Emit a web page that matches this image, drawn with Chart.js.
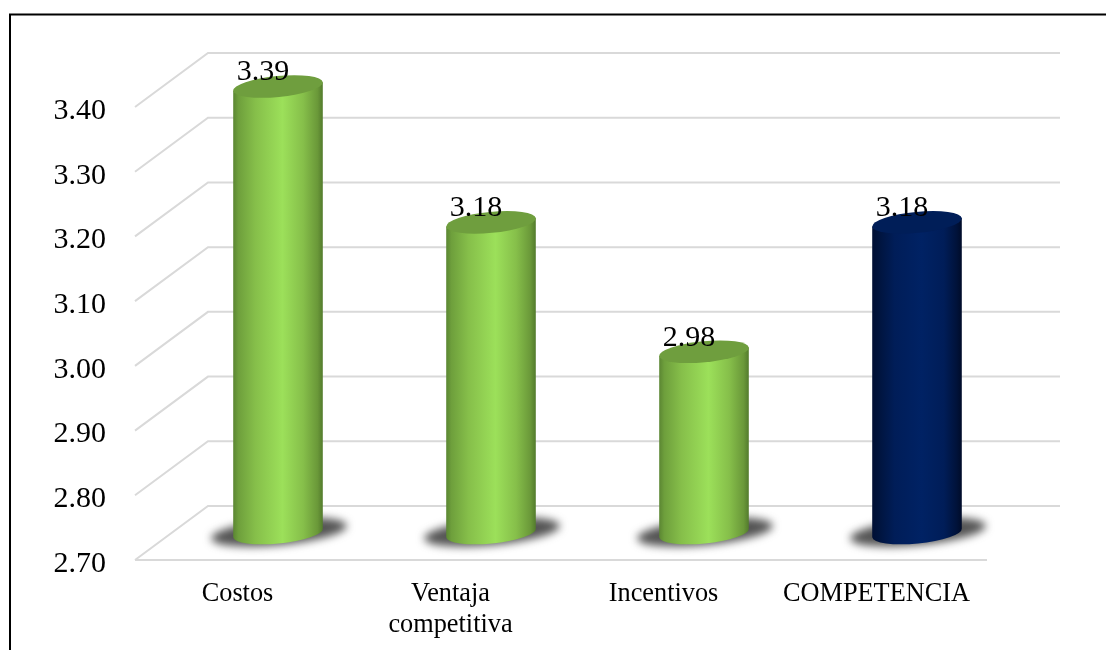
<!DOCTYPE html>
<html>
<head>
<meta charset="utf-8">
<title>Competencia</title>
<script src="https://cdn.jsdelivr.net/npm/chart.js@4/dist/chart.umd.min.js"></script>
<style>
    html, body { margin: 0; padding: 0; background: #fff; overflow: hidden; }
    canvas { display: block; }
</style>
</head>
<body>
<canvas id="competenciaChart" width="1106" height="650"></canvas>
<script>
const categories = ['Costos', ['Ventaja', 'competitiva'], 'Incentivos', 'COMPETENCIA'];
const scores = [3.39, 3.18, 2.98, 3.18];
const scoreLabels = ['3.39', '3.18', '2.98', '3.18'];
const tickValues = [2.7, 2.8, 2.9, 3.0, 3.1, 3.2, 3.3, 3.4];
const tickLabels = ['2.70', '2.80', '2.90', '3.00', '3.10', '3.20', '3.30', '3.40'];

const SERIF = '"Liberation Serif", "Times New Roman", serif';
const GRID_COLOR = '#d9d9d9';
// how far the back wall sits from the front of the floor
const DEPTH_X = 73;
const DEPTH_Y = 54;
const TILT = -5.5 * Math.PI / 180;

const green = {
    top: '#6f9e3e',
    side: [[0, '#5a8532'], [0.06, '#6e9f3c'], [0.25, '#86bf4a'], [0.55, '#9ce05a'], [0.78, '#86bf4a'], [0.94, '#6a9839'], [1, '#527a2c']]
};
const navy = {
    top: '#001e58',
    side: [[0, '#000f33'], [0.08, '#00143e'], [0.25, '#001d58'], [0.55, '#002264'], [0.8, '#001d58'], [0.94, '#00123a'], [1, '#000b28']]
};
const barStyles = [green, green, green, navy];

// grey floor and back wall, plus the outer frame
function drawWalls(chart) {
    const ctx = chart.ctx;
    const yScale = chart.scales.y;
    const { left, right, bottom } = chart.chartArea;

    ctx.save();
    ctx.strokeStyle = '#000';
    ctx.lineWidth = 2;
    ctx.beginPath();
    ctx.moveTo(10, 650);
    ctx.lineTo(10, 14.5);
    ctx.lineTo(1106, 14.5);
    ctx.stroke();

    ctx.strokeStyle = GRID_COLOR;
    ctx.lineWidth = 2;
    ctx.beginPath();
    yScale.ticks.forEach(tick => {
        const y = yScale.getPixelForValue(tick.value);
        ctx.moveTo(left, y);
        ctx.lineTo(left + DEPTH_X, y - DEPTH_Y);
        ctx.lineTo(right + DEPTH_X, y - DEPTH_Y);
    });
    ctx.moveTo(left, bottom);
    ctx.lineTo(right, bottom);
    ctx.stroke();
    ctx.restore();
}

function drawCylinder(ctx, bar, floorY, style) {
    const cx = bar.x + DEPTH_X / 2;
    const topY = bar.y - DEPTH_Y / 2;
    const baseY = floorY - DEPTH_Y / 2;
    const rx = bar.width / 2;
    const ry = 10.5;

    // soft shadow on the floor
    ctx.save();
    ctx.filter = 'blur(4px)';
    ctx.fillStyle = 'rgba(65, 65, 65, 0.9)';
    ctx.beginPath();
    ctx.ellipse(cx + 1, baseY - 1, 68, 13, TILT, 0, Math.PI * 2);
    ctx.fill();
    ctx.restore();

    const sideFill = ctx.createLinearGradient(cx - rx, 0, cx + rx, 0);
    style.side.forEach(stop => sideFill.addColorStop(stop[0], stop[1]));

    const dx = rx * Math.cos(TILT);
    const dy = rx * Math.sin(TILT);
    ctx.fillStyle = sideFill;
    ctx.beginPath();
    ctx.moveTo(cx - dx, topY - dy);
    ctx.lineTo(cx - dx, baseY - dy);
    ctx.ellipse(cx, baseY, rx, ry, TILT, Math.PI, 0, true);
    ctx.lineTo(cx + dx, topY + dy);
    ctx.closePath();
    ctx.fill();

    ctx.fillStyle = style.top;
    ctx.beginPath();
    ctx.ellipse(cx, topY, rx, ry, TILT, 0, Math.PI * 2);
    ctx.fill();
}

const cylinderPlugin = {
    id: 'cylinders',
    beforeDraw: drawWalls,
    beforeDatasetDraw(chart, args) {
        const floorY = chart.scales.y.getPixelForValue(tickValues[0]);
        args.meta.data.forEach((bar, i) => drawCylinder(chart.ctx, bar, floorY, barStyles[i]));
        return false; // skip the flat bars
    },
    afterDatasetsDraw(chart) {
        const ctx = chart.ctx;
        ctx.save();
        ctx.font = '30px ' + SERIF;
        ctx.fillStyle = '#000';
        ctx.textAlign = 'center';
        ctx.textBaseline = 'alphabetic';
        chart.getDatasetMeta(0).data.forEach((bar, i) => {
            ctx.fillText(scoreLabels[i], bar.x + DEPTH_X / 2 - 15, bar.y - DEPTH_Y / 2 - 6);
        });
        ctx.restore();
    }
};

new Chart(document.getElementById('competenciaChart'), {
    type: 'bar',
    data: {
        labels: categories,
        datasets: [{
            label: 'Competencia',
            data: scores,
            barThickness: 90,
            backgroundColor: '#9ce05a'
        }]
    },
    options: {
        responsive: false,
        animation: false,
        layout: { padding: { top: 107, right: 119, left: 0, bottom: 0 } },
        plugins: { legend: { display: false }, tooltip: { enabled: false } },
        scales: {
            x: {
                grid: { display: false },
                border: { display: false },
                afterFit: scale => { scale.height = 90; },
                ticks: {
                    color: '#000',
                    font: { family: SERIF, size: 26.3 },
                    padding: 10,
                    maxRotation: 0,
                    autoSkip: false,
                    labelOffset: -4
                }
            },
            y: {
                min: 2.7,
                max: 3.4,
                grid: { display: false },
                border: { display: false },
                afterFit: scale => { scale.width = 135; },
                afterBuildTicks: scale => { scale.ticks = tickValues.map(value => ({ value })); },
                ticks: {
                    color: '#000',
                    font: { family: SERIF, size: 30 },
                    padding: 21,
                    labelOffset: 4,
                    callback: (value, index) => tickLabels[index]
                }
            }
        }
    },
    plugins: [cylinderPlugin]
});
</script>
</body>
</html>
